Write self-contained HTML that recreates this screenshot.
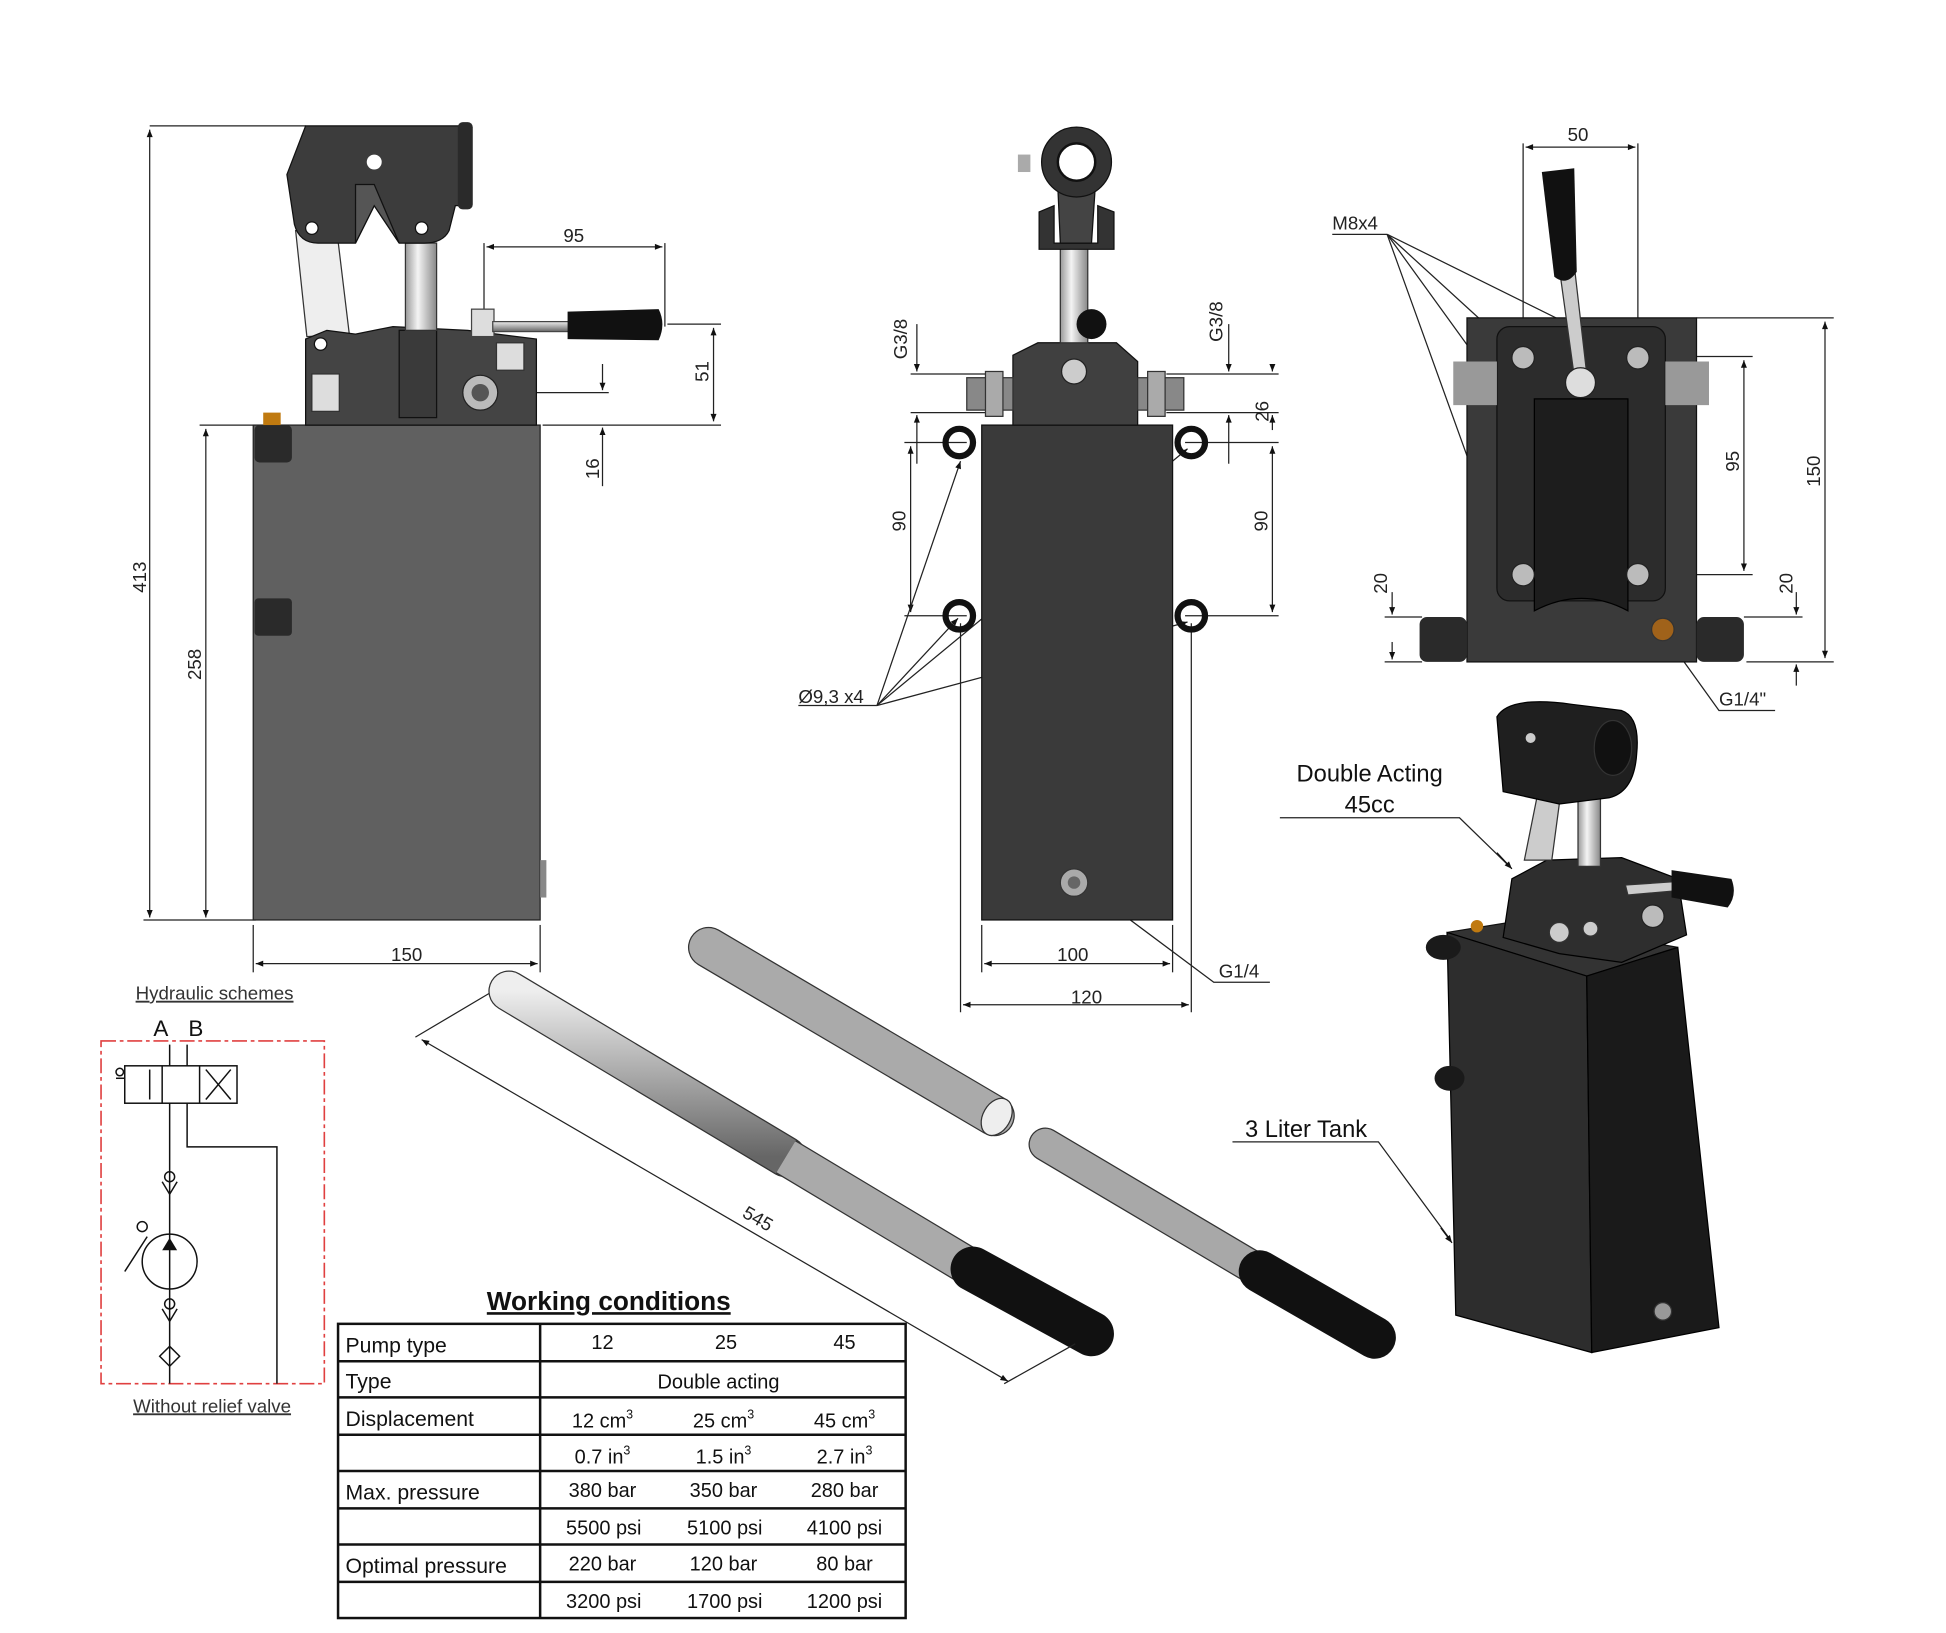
<!DOCTYPE html>
<html><head><meta charset="utf-8"><style>
html,body{margin:0;padding:0;background:#fff;}
svg{display:block;}
text{font-family:"Liberation Sans",sans-serif;}
</style></head><body>
<svg width="1946" height="1633" viewBox="0 0 1560 1310" preserveAspectRatio="none" xmlns="http://www.w3.org/2000/svg">
<defs>
<linearGradient id="rod" x1="0" y1="0" x2="0" y2="1"><stop offset="0" stop-color="#eee"/><stop offset="0.5" stop-color="#aaa"/><stop offset="1" stop-color="#666"/></linearGradient>
<linearGradient id="chrome" x1="0" y1="0" x2="1" y2="0"><stop offset="0" stop-color="#999"/><stop offset="0.4" stop-color="#f4f4f4"/><stop offset="1" stop-color="#888"/></linearGradient>
<marker id="ar" viewBox="0 0 10 10" refX="10" refY="5" markerWidth="8" markerHeight="6" orient="auto-start-reverse"><path d="M0,1 L10,5 L0,9 z" fill="#111"/></marker>
</defs>
<g stroke="#222" stroke-width="1" fill="none">
<line x1="120" y1="101" x2="245" y2="101"/>
<line x1="120" y1="104" x2="120" y2="736" marker-start="url(#ar)" marker-end="url(#ar)"/>
<line x1="115" y1="738" x2="205" y2="738"/>
<line x1="160" y1="341" x2="205" y2="341"/>
<line x1="165" y1="344" x2="165" y2="736" marker-start="url(#ar)" marker-end="url(#ar)"/>
<line x1="203" y1="742" x2="203" y2="780"/><line x1="433" y1="742" x2="433" y2="780"/>
<line x1="205" y1="773" x2="431" y2="773" marker-start="url(#ar)" marker-end="url(#ar)"/>
<line x1="388" y1="195" x2="388" y2="265"/><line x1="533" y1="195" x2="533" y2="262"/>
<line x1="390" y1="198" x2="531" y2="198" marker-start="url(#ar)" marker-end="url(#ar)"/>
<line x1="535" y1="260" x2="578" y2="260"/><line x1="435" y1="341" x2="578" y2="341"/>
<line x1="572" y1="263" x2="572" y2="338" marker-start="url(#ar)" marker-end="url(#ar)"/>
<line x1="400" y1="315" x2="488" y2="315"/>
<line x1="483" y1="292" x2="483" y2="313" marker-end="url(#ar)"/>
<line x1="483" y1="390" x2="483" y2="343" marker-end="url(#ar)"/>
</g>
<g font-size="15" fill="#222">
<text x="460" y="194" text-anchor="middle">95</text>
<text x="326" y="771" text-anchor="middle">150</text>
<text transform="translate(568,298) rotate(-90)" text-anchor="middle">51</text>
<text transform="translate(480,376) rotate(-90)" text-anchor="middle">16</text>
<text transform="translate(117,463) rotate(-90)" text-anchor="middle">413</text>
<text transform="translate(161,533) rotate(-90)" text-anchor="middle">258</text>
</g>
<rect x="203" y="341" width="230" height="397" fill="#606060" stroke="#222"/>
<rect x="204" y="341" width="30" height="30" rx="4" fill="#2a2a2a"/>
<rect x="204" y="480" width="30" height="30" rx="3" fill="#2a2a2a"/>
<rect x="211" y="331" width="14" height="10" fill="#c07a10"/>
<rect x="433" y="690" width="5" height="30" fill="#888"/>
<path d="M237 185 L270 185 L280 268 L246 270 Z" fill="#eee" stroke="#333"/>
<path d="M245 341 L245 272 L262 265 L285 268 L315 262 L375 265 L430 272 L430 341 Z" fill="#444" stroke="#111"/>
<rect x="250" y="300" width="22" height="30" fill="#ddd" stroke="#333"/>
<rect x="320" y="265" width="30" height="70" fill="#3a3a3a" stroke="#111"/>
<circle cx="385" cy="315" r="14" fill="#bbb" stroke="#222"/><circle cx="385" cy="315" r="7" fill="#555"/>
<rect x="398" y="275" width="22" height="22" fill="#ddd" stroke="#333"/>
<circle cx="257" cy="276" r="5" fill="#fff" stroke="#111"/>
<rect x="325" y="195" width="25" height="70" fill="url(#chrome)" stroke="#333"/>
<path d="M245 101 L378 101 L378 165 L365 165 L360 185 Q355 195 340 195 L320 195 L300 165 L285 195 L255 195 Q240 195 236 180 L230 140 Z" fill="#3c3c3c" stroke="#111"/>
<path d="M285 148 L300 148 L320 195 L300 165 L285 195 Z" fill="#555" stroke="#111"/>
<rect x="367" y="98" width="12" height="70" rx="4" fill="#2a2a2a"/>
<circle cx="300" cy="130" r="6" fill="#fff"/><circle cx="250" cy="183" r="5" fill="#fff" stroke="#111"/><circle cx="338" cy="183" r="5" fill="#fff" stroke="#111"/>
<rect x="378" y="248" width="18" height="22" fill="#ddd" stroke="#444"/>
<rect x="395" y="258" width="65" height="8" fill="url(#rod)" stroke="#444"/>
<path d="M455 250 L528 248 Q534 260 528 273 L455 272 Z" fill="#111"/>
<!-- MIDDLE -->
<g stroke="#222" stroke-width="1" fill="none">
<line x1="730" y1="300" x2="790" y2="300"/><line x1="730" y1="331" x2="790" y2="331"/>
<line x1="735" y1="260" x2="735" y2="298" marker-end="url(#ar)"/>
<line x1="735" y1="372" x2="735" y2="333" marker-end="url(#ar)"/>
<line x1="935" y1="300" x2="1025" y2="300"/><line x1="935" y1="331" x2="1025" y2="331"/>
<line x1="985" y1="260" x2="985" y2="298" marker-end="url(#ar)"/>
<line x1="985" y1="372" x2="985" y2="333" marker-end="url(#ar)"/>
<line x1="1020" y1="292" x2="1020" y2="298" marker-end="url(#ar)"/>
<line x1="1020" y1="345" x2="1020" y2="333" marker-end="url(#ar)"/>
<line x1="725" y1="355" x2="775" y2="355"/><line x1="725" y1="494" x2="775" y2="494"/>
<line x1="730" y1="358" x2="730" y2="491" marker-start="url(#ar)" marker-end="url(#ar)"/>
<line x1="950" y1="355" x2="1025" y2="355"/><line x1="950" y1="494" x2="1025" y2="494"/>
<line x1="1020" y1="358" x2="1020" y2="491" marker-start="url(#ar)" marker-end="url(#ar)"/>
<line x1="787" y1="742" x2="787" y2="780"/><line x1="940" y1="742" x2="940" y2="780"/>
<line x1="789" y1="773" x2="938" y2="773" marker-start="url(#ar)" marker-end="url(#ar)"/>
<line x1="770" y1="500" x2="770" y2="812"/><line x1="955" y1="500" x2="955" y2="812"/>
<line x1="772" y1="806" x2="953" y2="806" marker-start="url(#ar)" marker-end="url(#ar)"/>
<polyline points="640,566 703,566"/>
<line x1="703" y1="566" x2="770" y2="370" marker-end="url(#ar)"/>
<line x1="703" y1="566" x2="768" y2="496" marker-end="url(#ar)"/>
<line x1="703" y1="566" x2="952" y2="360" marker-end="url(#ar)"/>
<line x1="703" y1="566" x2="952" y2="499" marker-end="url(#ar)"/>
<polyline points="1018,788 973,788 866,708"/>
</g>
<g font-size="15" fill="#222">
<text transform="translate(727,272) rotate(-90)" text-anchor="middle">G3/8</text>
<text transform="translate(980,258) rotate(-90)" text-anchor="middle">G3/8</text>
<text transform="translate(1017,330) rotate(-90)" text-anchor="middle">26</text>
<text transform="translate(726,418) rotate(-90)" text-anchor="middle">90</text>
<text transform="translate(1016,418) rotate(-90)" text-anchor="middle">90</text>
<text x="640" y="564">Ø9,3 x4</text>
<text x="860" y="771" text-anchor="middle">100</text>
<text x="871" y="805" text-anchor="middle">120</text>
<text x="977" y="784">G1/4</text>
</g>
<rect x="787" y="341" width="153" height="397" fill="#3a3a3a" stroke="#111"/>
<circle cx="861" cy="708" r="11" fill="#aaa" stroke="#333"/><circle cx="861" cy="708" r="5" fill="#666"/>
<g fill="none" stroke="#111" stroke-width="5">
<circle cx="769" cy="355" r="11"/><circle cx="955" cy="355" r="11"/><circle cx="769" cy="494" r="11"/><circle cx="955" cy="494" r="11"/>
</g>
<path d="M812 341 L812 285 L832 275 L895 275 L912 290 L912 341 Z" fill="#404040" stroke="#111"/>
<rect x="775" y="303" width="37" height="26" fill="#888" stroke="#333"/>
<rect x="912" y="303" width="37" height="26" fill="#888" stroke="#333"/>
<rect x="790" y="298" width="14" height="36" fill="#aaa" stroke="#333"/><rect x="920" y="298" width="14" height="36" fill="#aaa" stroke="#333"/>
<circle cx="861" cy="298" r="10" fill="#ccc" stroke="#222"/>
<rect x="850" y="195" width="22" height="80" fill="url(#chrome)" stroke="#333"/>
<circle cx="875" cy="260" r="12" fill="#111"/>
<path d="M833 170 L845 165 L845 195 L880 195 L880 165 L893 170 L893 200 L833 200 Z" fill="#333" stroke="#111"/>
<path d="M848 150 L878 150 L875 195 L850 195 Z" fill="#444" stroke="#111"/>
<circle cx="863" cy="130" r="28" fill="#333" stroke="#111"/><circle cx="863" cy="130" r="15" fill="#fff" stroke="#111" stroke-width="2"/>
<rect x="816" y="124" width="10" height="14" fill="#aaa"/>
<!-- RIGHT -->
<g stroke="#222" stroke-width="1" fill="none">
<line x1="1221" y1="115" x2="1221" y2="290"/><line x1="1313" y1="115" x2="1313" y2="290"/>
<line x1="1223" y1="118" x2="1311" y2="118" marker-start="url(#ar)" marker-end="url(#ar)"/>
<line x1="1360" y1="255" x2="1470" y2="255"/><line x1="1400" y1="531" x2="1470" y2="531"/>
<line x1="1463" y1="258" x2="1463" y2="528" marker-start="url(#ar)" marker-end="url(#ar)"/>
<line x1="1330" y1="286" x2="1405" y2="286"/><line x1="1320" y1="461" x2="1405" y2="461"/>
<line x1="1398" y1="289" x2="1398" y2="458" marker-start="url(#ar)" marker-end="url(#ar)"/>
<line x1="1398" y1="495" x2="1445" y2="495"/>
<line x1="1440" y1="475" x2="1440" y2="493" marker-end="url(#ar)"/>
<line x1="1440" y1="550" x2="1440" y2="533" marker-end="url(#ar)"/>
<line x1="1110" y1="495" x2="1140" y2="495"/><line x1="1110" y1="531" x2="1140" y2="531"/>
<line x1="1116" y1="475" x2="1116" y2="493" marker-end="url(#ar)"/>
<line x1="1116" y1="515" x2="1116" y2="529" marker-end="url(#ar)"/>
<line x1="1068" y1="188" x2="1112" y2="188"/>
<line x1="1112" y1="188" x2="1218" y2="285" marker-end="url(#ar)"/>
<line x1="1112" y1="188" x2="1308" y2="285" marker-end="url(#ar)"/>
<line x1="1112" y1="188" x2="1210" y2="460" marker-end="url(#ar)"/>
<line x1="1112" y1="188" x2="1305" y2="455" marker-end="url(#ar)"/>
<polyline points="1423,570 1378,570 1335,510"/>
</g>
<g font-size="15" fill="#222">
<text x="1265" y="113" text-anchor="middle">50</text>
<text x="1068" y="184">M8x4</text>
<text transform="translate(1459,378) rotate(-90)" text-anchor="middle">150</text>
<text transform="translate(1394,370) rotate(-90)" text-anchor="middle">95</text>
<text transform="translate(1112,468) rotate(-90)" text-anchor="middle">20</text>
<text transform="translate(1437,468) rotate(-90)" text-anchor="middle">20</text>
<text x="1378" y="566">G1/4"</text>
</g>
<rect x="1176" y="255" width="184" height="276" fill="#3a3a3a" stroke="#111"/>
<rect x="1138" y="495" width="38" height="36" rx="6" fill="#2a2a2a"/>
<rect x="1360" y="495" width="38" height="36" rx="6" fill="#2a2a2a"/>
<rect x="1200" y="262" width="135" height="220" rx="10" fill="#2c2c2c" stroke="#111"/>
<path d="M1230 320 L1305 320 L1305 490 Q1268 470 1230 490 Z" fill="#1d1d1d" stroke="#000"/>
<rect x="1165" y="290" width="35" height="35" fill="#999"/><rect x="1335" y="290" width="35" height="35" fill="#999"/>
<circle cx="1221" cy="287" r="9" fill="#bbb" stroke="#222"/><circle cx="1313" cy="287" r="9" fill="#bbb" stroke="#222"/>
<circle cx="1221" cy="461" r="9" fill="#bbb" stroke="#222"/><circle cx="1313" cy="461" r="9" fill="#bbb" stroke="#222"/>
<path d="M1250 215 L1262 213 L1272 300 L1262 302 Z" fill="#ccc" stroke="#333"/>
<circle cx="1267" cy="307" r="12" fill="#ddd" stroke="#222"/>
<path d="M1236 138 L1262 135 L1264 218 Q1256 230 1246 222 Z" fill="#111"/>
<circle cx="1333" cy="505" r="9" fill="#a0621a" stroke="#333"/>
<!-- ISO -->
<g stroke="#222" stroke-width="1" fill="none">
<polyline points="1026,656 1170,656 1210,695" />
<polyline points="988,916 1105,916 1163,995"/>
</g>
<line x1="1200" y1="684" x2="1212" y2="697" stroke="#111" marker-end="url(#ar)"/>
<line x1="1155" y1="985" x2="1164" y2="997" stroke="#111" marker-end="url(#ar)"/>
<g font-size="19" fill="#111">
<text x="1098" y="627" text-anchor="middle">Double Acting</text>
<text x="1098" y="652" text-anchor="middle">45cc</text>
<text x="1047" y="912" text-anchor="middle">3 Liter Tank</text>
</g>
<path d="M1160 748 L1222 738 L1345 760 L1272 783 Z" fill="#333" stroke="#111"/>
<path d="M1160 748 L1272 783 L1276 1085 L1167 1055 Z" fill="#2d2d2d" stroke="#000"/>
<path d="M1272 783 L1345 760 L1378 1065 L1276 1085 Z" fill="#1a1a1a" stroke="#000"/>
<ellipse cx="1157" cy="760" rx="14" ry="10" fill="#1a1a1a"/><ellipse cx="1162" cy="865" rx="12" ry="10" fill="#1a1a1a"/>
<circle cx="1333" cy="1052" r="7" fill="#999" stroke="#333"/>
<circle cx="1184" cy="743" r="5" fill="#c07a10"/>
<path d="M1205 752 L1212 705 L1240 690 L1300 688 L1345 705 L1352 750 L1300 772 L1250 765 Z" fill="#2e2e2e" stroke="#000"/>
<circle cx="1250" cy="748" r="8" fill="#ccc" stroke="#333"/><circle cx="1275" cy="745" r="6" fill="#ccc" stroke="#333"/>
<circle cx="1325" cy="735" r="9" fill="#bbb" stroke="#222"/>
<path d="M1222 690 L1234 630 L1252 630 L1244 690 Z" fill="#ccc" stroke="#333"/>
<rect x="1265" y="635" width="18" height="60" fill="url(#chrome)" stroke="#333"/>
<path d="M1303 710 L1360 706 L1362 713 L1305 718 Z" fill="#ccc" stroke="#333"/>
<path d="M1340 698 L1388 705 Q1393 718 1385 728 L1340 720 Z" fill="#111"/>
<path d="M1200 575 Q1210 558 1260 565 L1300 570 Q1315 575 1312 605 Q1310 635 1290 640 L1250 645 L1205 635 Z" fill="#1f1f1f" stroke="#000"/>
<ellipse cx="1293" cy="600" rx="15" ry="22" fill="#111" stroke="#333"/>
<circle cx="1227" cy="592" r="4" fill="#ccc"/>
<!-- RODS -->
<g>
<line x1="408" y1="795" x2="630" y2="928" stroke="#333" stroke-width="33" stroke-linecap="round"/>
<line x1="408" y1="795" x2="630" y2="928" stroke="url(#rod)" stroke-width="31" stroke-linecap="round"/>
<line x1="630" y1="928" x2="780" y2="1018" stroke="#333" stroke-width="31"/>
<line x1="630" y1="928" x2="780" y2="1018" stroke="#aaa" stroke-width="29"/>
<line x1="780" y1="1018" x2="875" y2="1070" stroke="#111" stroke-width="36" stroke-linecap="round"/>
<line x1="568" y1="760" x2="797" y2="895" stroke="#333" stroke-width="33" stroke-linecap="round"/>
<line x1="568" y1="760" x2="797" y2="895" stroke="#aaa" stroke-width="31" stroke-linecap="round"/>
<ellipse cx="799" cy="896" rx="11" ry="16" transform="rotate(30 799 896)" fill="#eee" stroke="#333"/>
<line x1="838" y1="918" x2="1010" y2="1020" stroke="#333" stroke-width="27" stroke-linecap="round"/>
<line x1="838" y1="918" x2="1010" y2="1020" stroke="#a8a8a8" stroke-width="25" stroke-linecap="round"/>
<line x1="1010" y1="1020" x2="1102" y2="1073" stroke="#111" stroke-width="34" stroke-linecap="round"/>
</g>
<g stroke="#222" stroke-width="1">
<line x1="338" y1="834" x2="808" y2="1108" marker-start="url(#ar)" marker-end="url(#ar)"/>
<line x1="333" y1="832" x2="392" y2="797"/>
<line x1="805" y1="1110" x2="862" y2="1078"/>
</g>
<text transform="translate(605,982) rotate(30)" font-size="15" fill="#222" text-anchor="middle">545</text>
<!-- HYDRAULIC -->
<text x="172" y="802" font-size="15" fill="#333" text-anchor="middle" text-decoration="underline">Hydraulic schemes</text>
<text x="170" y="1133" font-size="15" fill="#333" text-anchor="middle" text-decoration="underline">Without relief valve</text>
<rect x="81" y="835" width="179" height="275" fill="none" stroke="#e04040" stroke-width="1.3" stroke-dasharray="12,3,3,3"/>
<text x="129" y="831" font-family="Liberation Serif" font-size="18" fill="#111" text-anchor="middle">A</text>
<text x="157" y="831" font-family="Liberation Serif" font-size="18" fill="#111" text-anchor="middle">B</text>
<g stroke="#111" stroke-width="1.2" fill="none">
<rect x="100" y="855" width="90" height="30"/>
<line x1="130" y1="855" x2="130" y2="885"/><line x1="160" y1="855" x2="160" y2="885"/>
<line x1="136" y1="838" x2="136" y2="855"/><line x1="150" y1="838" x2="150" y2="855"/>
<line x1="165" y1="858" x2="185" y2="882"/><line x1="185" y1="858" x2="165" y2="882"/>
<line x1="120" y1="858" x2="120" y2="882"/>
<line x1="136" y1="885" x2="136" y2="1110"/>
<polyline points="150,885 150,920 222,920 222,1110"/>
<circle cx="136" cy="1012" r="22"/>
<path d="M130 948 L136 958 L142 948"/><circle cx="136" cy="944" r="4"/>
<path d="M130 1050 L136 1060 L142 1050"/><circle cx="136" cy="1046" r="4"/>
<path d="M136 1080 L144 1088 L136 1096 L128 1088 Z"/>
<line x1="100" y1="1020" x2="118" y2="992"/><circle cx="114" cy="984" r="4"/>
<line x1="93" y1="865" x2="100" y2="865"/><circle cx="96" cy="860" r="3"/>
</g>
<path d="M130 1003 L136 993 L142 1003 Z" fill="#111"/>
<!-- TABLE -->
<text x="488" y="1051" font-family="Liberation Serif" font-weight="bold" font-size="21" fill="#111" text-anchor="middle" text-decoration="underline">Working conditions</text>
<g stroke="#111" stroke-width="2" fill="none">
<rect x="271" y="1062" width="455" height="236"/>
<line x1="433" y1="1062" x2="433" y2="1298"/>
<line x1="271" y1="1092" x2="726" y2="1092"/><line x1="271" y1="1121" x2="726" y2="1121"/>
<line x1="271" y1="1151" x2="726" y2="1151"/><line x1="271" y1="1180" x2="726" y2="1180"/>
<line x1="271" y1="1210" x2="726" y2="1210"/><line x1="271" y1="1239" x2="726" y2="1239"/>
<line x1="271" y1="1269" x2="726" y2="1269"/>
</g>
<g font-size="17" fill="#111">
<text x="277" y="1085">Pump type</text>
<text x="277" y="1114">Type</text>
<text x="277" y="1144">Displacement</text>
<text x="277" y="1203">Max. pressure</text>
<text x="277" y="1262">Optimal pressure</text>
</g>
<g font-size="16" fill="#111" text-anchor="middle">
<text x="483" y="1082">12</text><text x="582" y="1082">25</text><text x="677" y="1082">45</text>
<text x="576" y="1114">Double acting</text>
<text x="483" y="1145">12 cm<tspan font-size="10" dy="-7">3</tspan></text>
<text x="580" y="1145">25 cm<tspan font-size="10" dy="-7">3</tspan></text>
<text x="677" y="1145">45 cm<tspan font-size="10" dy="-7">3</tspan></text>
<text x="483" y="1174">0.7 in<tspan font-size="10" dy="-7">3</tspan></text>
<text x="580" y="1174">1.5 in<tspan font-size="10" dy="-7">3</tspan></text>
<text x="677" y="1174">2.7 in<tspan font-size="10" dy="-7">3</tspan></text>
<text x="483" y="1201">380 bar</text><text x="580" y="1201">350 bar</text><text x="677" y="1201">280 bar</text>
<text x="484" y="1231">5500 psi</text><text x="581" y="1231">5100 psi</text><text x="677" y="1231">4100 psi</text>
<text x="483" y="1260">220 bar</text><text x="580" y="1260">120 bar</text><text x="677" y="1260">80 bar</text>
<text x="484" y="1290">3200 psi</text><text x="581" y="1290">1700 psi</text><text x="677" y="1290">1200 psi</text>
</g>
</svg>
</body></html>
